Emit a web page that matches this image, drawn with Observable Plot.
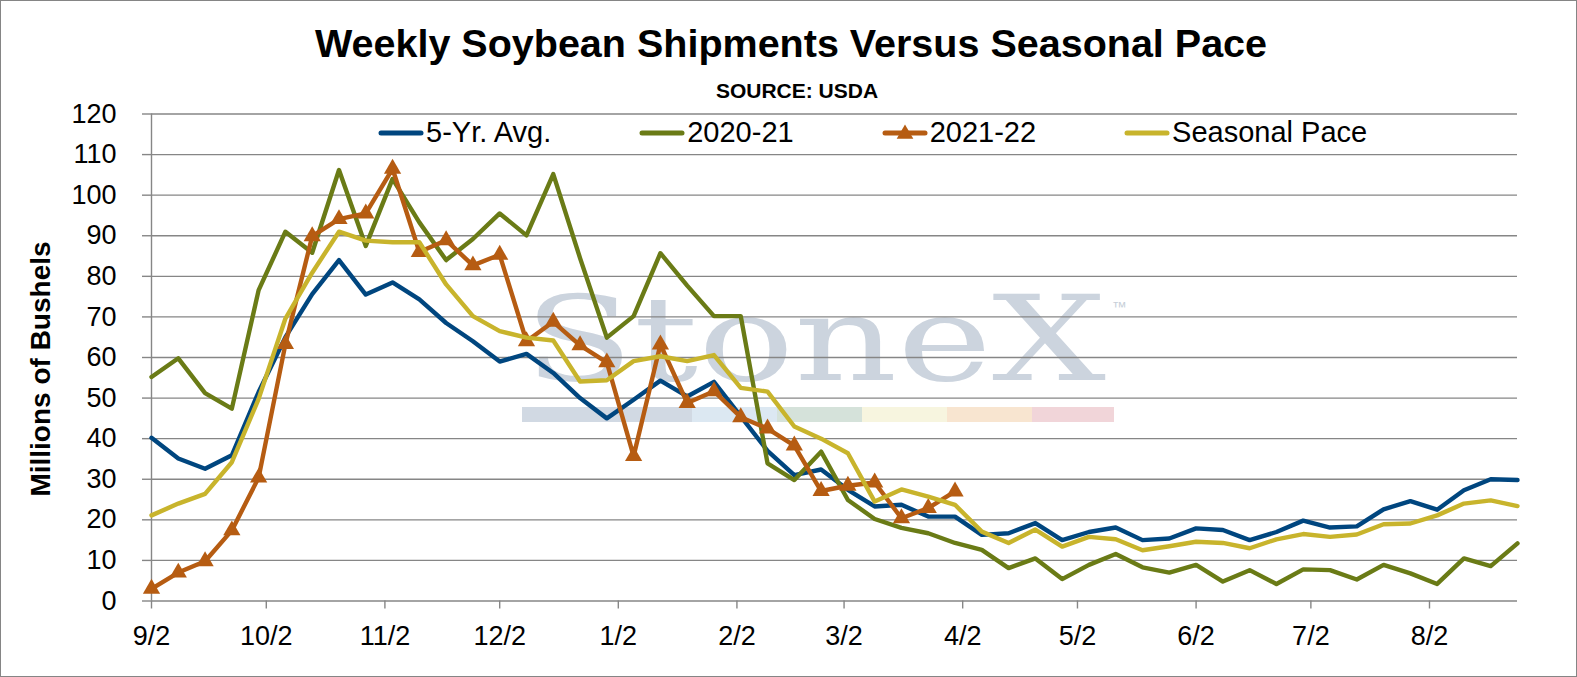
<!DOCTYPE html>
<html>
<head>
<meta charset="utf-8">
<script src="https://cdn.jsdelivr.net/npm/d3@7"></script>
<script src="https://cdn.jsdelivr.net/npm/@observablehq/plot@0.6"></script>
<style>
  html, body { margin: 0; padding: 0; background: #fff; }
  #wrap { position: relative; width: 1577px; height: 677px; overflow: hidden; background: #fff;
          font-family: "Liberation Sans", Arial, sans-serif; color: #000; }
  #wm, #chart { position: absolute; left: 0; top: 0; }
  #title { position: absolute; left: 791px; top: 24px; transform: translateX(-50%); white-space: nowrap;
           font-weight: bold; font-size: 39.5px; line-height: 39.5px; }
  #sub { position: absolute; left: 797px; top: 79.5px; transform: translateX(-50%); white-space: nowrap;
         font-weight: bold; font-size: 21px; line-height: 21px; }
  #ylab { position: absolute; left: 41px; top: 369px; transform: translate(-50%, -50%) rotate(-90deg);
          white-space: nowrap; font-weight: bold; font-size: 28px; line-height: 28px; }
  #legend { position: absolute; left: 378px; top: 118px; display: flex; gap: 88px; }
  .item { display: flex; align-items: center; font-size: 29px; line-height: 29px; white-space: nowrap; }
  .item svg { display: block; margin-right: 2px; }
  #frame { position: absolute; left: 0; top: 0; width: 1577px; height: 677px; box-sizing: border-box;
           border: 1px solid #858585; pointer-events: none; }
</style>
</head>
<body>
<div id="wrap">
  <div id="wm">
    <svg width="1577" height="677">
      <text x="524" y="380" font-family="DejaVu Serif" font-size="118" fill="#ccd4de"
            textLength="582" lengthAdjust="spacingAndGlyphs">StoneX</text>
      <text x="1112" y="312" font-family="Liberation Sans" font-size="15" fill="#c6ced8">™</text>
      <rect x="522" y="407" width="170" height="15" fill="#d1d9e3"></rect>
      <rect x="692" y="407" width="85" height="15" fill="#dce8f2"></rect>
      <rect x="777" y="407" width="85" height="15" fill="#d5e2da"></rect>
      <rect x="862" y="407" width="85" height="15" fill="#f7f5df"></rect>
      <rect x="947" y="407" width="85" height="15" fill="#f8e5d0"></rect>
      <rect x="1032" y="407" width="82" height="15" fill="#f1d5d9"></rect>
    </svg>
  </div>
  <div id="chart"></div>
  <div id="title">Weekly Soybean Shipments Versus Seasonal Pace</div>
  <div id="sub">SOURCE: USDA</div>
  <div id="ylab">Millions of Bushels</div>
  <div id="legend"></div>
  <div id="frame"></div>
</div>
<script>
// ---------- data ----------
const seriesNames = ["5-Yr. Avg.", "2020-21", "2021-22", "Seasonal Pace"];
const seriesColors = ["#00467f", "#6a7b16", "#b65c12", "#c8b42c"];

const firstWeek = "2021-09-02";   // weekly points, week-ending Thursdays
const weekCount = 52;

const avg5 = [40.2, 35.1, 32.6, 35.9, 51.5, 65, 75.6, 84, 75.5, 78.5, 74.3, 68.5, 64, 59,
  60.9, 56.2, 50, 45, 49.6, 54.3, 50.4, 54, 45.5, 37, 31, 32.4, 27.4, 23.3, 23.7, 20.8,
  20.8, 16.3, 16.7, 19.2, 15, 17, 18.1, 15, 15.4, 17.9, 17.5, 15, 17, 19.8, 18.1, 18.4,
  22.6, 24.6, 22.5, 27.3, 30, 29.8];

const y2020_21 = [55.2, 59.8, 51.2, 47.4, 76.6, 91, 85.8, 106.2, 87.5, 104, 93.3, 84, 89.2,
  95.5, 90.1, 105.2, 84.5, 64.9, 70.2, 85.7, 77.7, 70.2, 70.2, 33.9, 29.8, 36.8, 24.9,
  20.2, 18, 16.7, 14.3, 12.6, 8.1, 10.5, 5.4, 8.9, 11.6, 8.3, 7, 8.9, 4.8, 7.6, 4.2, 7.8,
  7.6, 5.3, 8.9, 6.8, 4.2, 10.5, 8.6, 14.2];

const y2021_22 = [3.0, 7.0, 9.8, 17.4, 30.4, 63.3, 89.9, 94.1, 95.5, 106.5, 86, 88.9, 82.7,
  85.3, 64, 68.8, 63, 58.8, 35.7, 63.2, 48.8, 51.7, 45.3, 42.5, 38.3, 27.1, 28.4, 29.2,
  20.4, 22.9, 27];

const seasonalPace = [21.1, 24, 26.4, 34.2, 49.8, 69.6, 80.9, 91, 88.8, 88.4, 88.4, 78,
  70.2, 66.5, 64.9, 64.2, 54.1, 54.4, 59.1, 60.3, 59.1, 60.6, 52.5, 51.6, 43, 40, 36.4,
  24.5, 27.5, 25.7, 23.7, 17.1, 14.3, 17.6, 13.4, 15.8, 15.2, 12.5, 13.5, 14.6, 14.3, 13,
  15.2, 16.5, 15.8, 16.4, 18.9, 19.1, 21.1, 24, 24.8, 23.4];

const xTickLabels = ["2021-09-02", "2021-10-02", "2021-11-02", "2021-12-02", "2022-01-02",
  "2022-02-02", "2022-03-02", "2022-04-02", "2022-05-02", "2022-06-02", "2022-07-02", "2022-08-02"];
const yTicks = [0, 10, 20, 30, 40, 50, 60, 70, 80, 90, 100, 110, 120];

// ---------- build ----------
const start = d3.utcParse("%Y-%m-%d")(firstWeek);
const weeks = d3.range(weekCount).map(i => d3.utcDay.offset(start, 7 * i));
const xTicks = xTickLabels.map(d3.utcParse("%Y-%m-%d"));
const rows = (vals) => vals.map((v, i) => ({date: weeks[i], value: v}));

const GRID = "#868686";
const chart = Plot.plot({
  width: 1577,
  height: 677,
  marginTop: 113.5,
  marginBottom: 76.5,
  marginLeft: 151,
  marginRight: 60,
  style: {background: "transparent", fontFamily: "'Liberation Sans', Arial, sans-serif", fontSize: "27px", color: "#000", overflow: "visible"},
  x: {type: "utc", domain: [weeks[0], weeks[weeks.length - 1]]},
  y: {domain: [0, 120]},
  marks: [
    Plot.ruleY(yTicks, {stroke: GRID, strokeWidth: 1.4}),
    Plot.ruleX([weeks[0]], {stroke: GRID, strokeWidth: 1.4}),
    Plot.axisY({ticks: yTicks, tickSize: 9, tickPadding: 26, color: "#000", stroke: GRID, strokeWidth: 1.4, label: null}),
    Plot.axisX({ticks: xTicks, tickFormat: d3.utcFormat("%-m/%-d"), tickSize: 8, tickPadding: 17,
                color: "#000", stroke: GRID, strokeWidth: 1.4, label: null}),
    Plot.lineY(rows(avg5), {x: "date", y: "value", stroke: seriesColors[0], strokeWidth: 4.4, strokeLinejoin: "round"}),
    Plot.lineY(rows(y2020_21), {x: "date", y: "value", stroke: seriesColors[1], strokeWidth: 4.4, strokeLinejoin: "round"}),
    Plot.lineY(rows(y2021_22), {x: "date", y: "value", stroke: seriesColors[2], strokeWidth: 4.4, strokeLinejoin: "round"}),
    Plot.dot(rows(y2021_22), {x: "date", y: "value", symbol: "triangle", r: 6.4, fill: seriesColors[2], stroke: "none"}),
    Plot.lineY(rows(seasonalPace), {x: "date", y: "value", stroke: seriesColors[3], strokeWidth: 4.4, strokeLinejoin: "round"})
  ]
});
document.getElementById("chart").appendChild(chart);

// ---------- legend ----------
const legend = d3.select("#legend");
seriesNames.forEach((name, k) => {
  const item = legend.append("div").attr("class", "item");
  const sw = item.append("svg").attr("width", 46).attr("height", 29);
  sw.append("line").attr("x1", 3).attr("x2", 43).attr("y1", 15).attr("y2", 15)
    .attr("stroke", seriesColors[k]).attr("stroke-width", 5).attr("stroke-linecap", "round");
  if (name === "2021-22") {
    sw.append("path").attr("transform", "translate(23,16)")
      .attr("d", d3.symbol(d3.symbolTriangle, 120)()).attr("fill", seriesColors[k]);
  }
  item.append("span").text(name);
});
</script>
</body>
</html>
